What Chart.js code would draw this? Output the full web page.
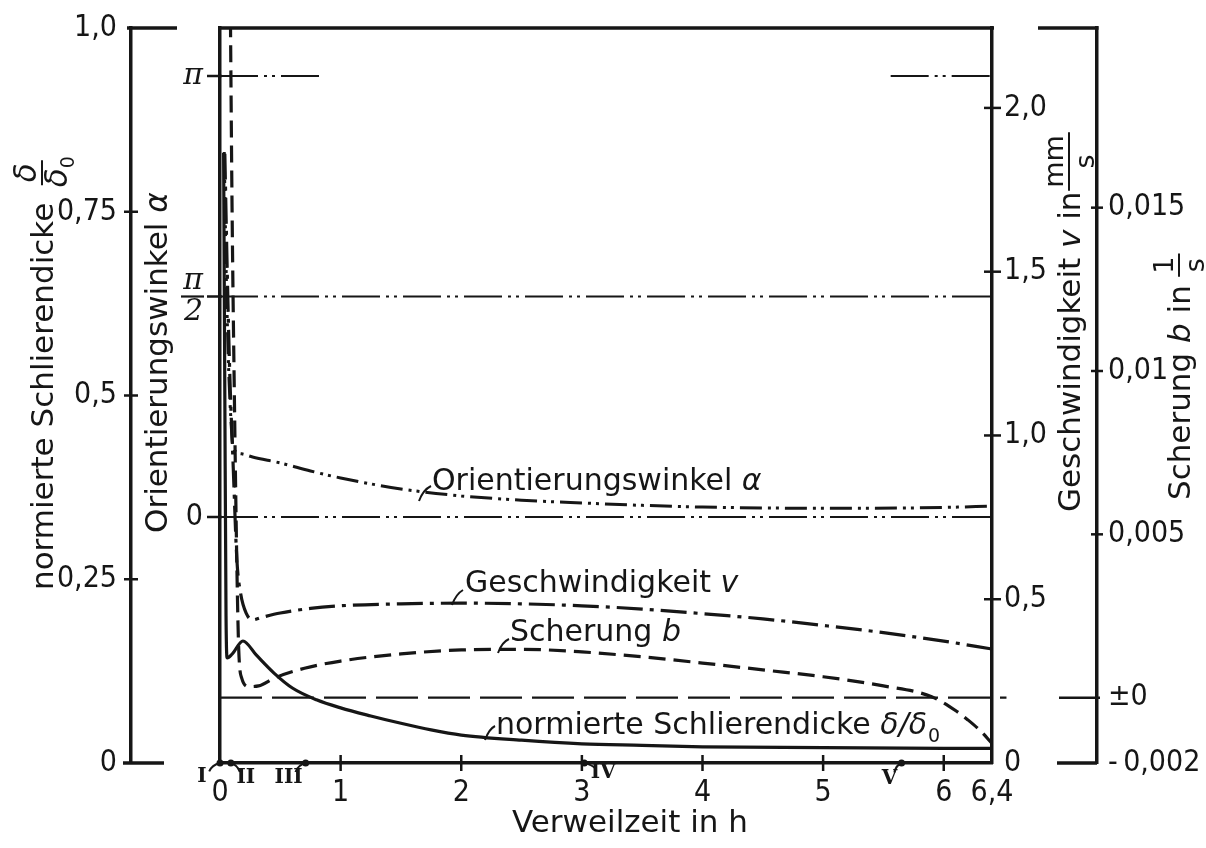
<!DOCTYPE html>
<html lang="de">
<head>
<meta charset="utf-8">
<title>Verweilzeit</title>
<script src="https://cdn.jsdelivr.net/npm/chart.js@4.4.1/dist/chart.umd.min.js"></script>
<style>
  html, body { margin: 0; padding: 0; background: #fff; }
  canvas { display: block; }
</style>
</head>
<body>
<canvas id="chart" width="1206" height="848"></canvas>
<script>
// Verweilzeit in h (x-Achse)
var xTicks = [0, 1, 2, 3, 4, 5, 6, 6.4];
var xTickLabels = ['0', '1', '2', '3', '4', '5', '6', '6,4'];

// normierte Schlierendicke delta/delta0 (linke aeussere Achse)
var deltaTicks = [0, 0.25, 0.5, 0.75, 1];
var deltaTickLabels = ['0', '0,25', '0,5', '0,75', '1,0'];
var deltaX = [0.03, 0.04, 0.05, 0.06, 0.1, 0.19, 0.3, 0.45, 0.6, 0.8, 1.0, 1.25, 1.5, 1.75, 2.0, 2.5, 3.0, 3.5, 4.0, 5.0, 6.0, 6.4];
var deltaY = [0.83, 0.5, 0.2, 0.143, 0.148, 0.166, 0.147, 0.122, 0.102, 0.086, 0.075, 0.064, 0.054, 0.045, 0.038, 0.031, 0.026, 0.024, 0.022, 0.021, 0.02, 0.02];

// Orientierungswinkel alpha in rad (linke innere Achse)
var alphaTicks = [0, Math.PI / 2, Math.PI];
var alphaTickLabels = ['0', ['\u03c0', '2'], '\u03c0'];
var alphaX = [0.035, 0.05, 0.07, 0.09, 0.11, 0.18, 0.27, 0.5, 0.75, 1.0, 1.5, 2.0, 2.5, 3.0, 3.5, 4.0, 5.0, 6.0, 6.4];
var alphaY = [2.6, 1.8, 1.1, 0.7, 0.49, 0.45, 0.427, 0.385, 0.328, 0.278, 0.2, 0.15, 0.12, 0.1, 0.083, 0.071, 0.062, 0.068, 0.078];
// Hilfslinien bei alpha = pi, pi/2, 0
var alphaPiSpans = [[0, 0.86], [5.56, 6.4]];
var alphaFullSpan = [0, 6.4];

// Geschwindigkeit v in mm/s (rechte innere Achse)
var vTicks = [0, 0.5, 1, 1.5, 2];
var vTickLabels = ['0', '0,5', '1,0', '1,5', '2,0'];
var vX = [0.04, 0.06, 0.08, 0.11, 0.14, 0.17, 0.22, 0.27, 0.35, 0.5, 0.75, 1.0, 1.5, 2.0, 2.5, 3.0, 3.5, 4.0, 4.5, 5.0, 5.5, 6.0, 6.4];
var vY = [1.86, 1.5, 1.2, 0.9, 0.62, 0.52, 0.455, 0.437, 0.445, 0.458, 0.472, 0.48, 0.486, 0.488, 0.486, 0.48, 0.47, 0.456, 0.44, 0.42, 0.398, 0.372, 0.348];

// Scherung b in 1/s (rechte aeussere Achse)
var bTicks = [-0.002, 0, 0.005, 0.01, 0.015];
var bTickLabels = ['-\u20090,002', '\u00b10', '0,005', '0,01', '0,015'];
var bX = [0.085, 0.1, 0.12, 0.14, 0.155, 0.18, 0.24, 0.32, 0.45, 0.7, 1.0, 1.5, 2.0, 2.5, 3.0, 3.5, 4.0, 4.5, 5.0, 5.5, 5.9, 6.1, 6.2, 6.3, 6.4];
var bY = [0.0215, 0.015, 0.009, 0.004, 0.0015, 0.0006, 0.00034, 0.00036, 0.0006, 0.0009, 0.00112, 0.00134, 0.00146, 0.00148, 0.0014, 0.00125, 0.00106, 0.00085, 0.00064, 0.00036, 0.00003, -0.0004, -0.00068, -0.001, -0.0014];
var bZeroSpan = [0, 6.52];

// Abschnitte I - V auf der Zeitachse
var stageX = [0, 0.09, 0.71, 3.02, 5.65];
var stageLabels = ['I', 'II', 'III', 'IV', 'V'];

var ink = '#161616';
var textFont = "'DejaVu Sans', 'Noto Sans', sans-serif";
var numFont = "'Liberation Sans Narrow', 'DejaVu Sans Condensed', 'Noto Sans', sans-serif";

function xy(xs, ys) {
    return xs.map(function(x, i) { return { x: x, y: ys[i] }; });
}
function level(spans, y) {
    var pts = [];
    spans.forEach(function(s, i) {
        if (i > 0) pts.push({ x: (spans[i - 1][1] + s[0]) / 2, y: null });
        pts.push({ x: s[0], y: y });
        pts.push({ x: s[1], y: y });
    });
    return pts;
}
function fixedTicks(vals) {
    return function(scale) {
        scale.ticks = vals.map(function(v) { return { value: v }; });
    };
}
function labelsFrom(arr) {
    return function(value, index) { return arr[index]; };
}
// feste Achsbreite, keine Randzugaben fuer Beschriftungen
function fixWidth(w) {
    return function(s) { s.width = w; s.paddingTop = 0; s.paddingBottom = 0; };
}

function line(c, x1, y1, x2, y2, w) {
    c.lineWidth = w;
    c.beginPath();
    c.moveTo(x1, y1);
    c.lineTo(x2, y2);
    c.stroke();
}
function leader(c, x1, y1, cx, cy, x2, y2) {
    c.lineWidth = 2;
    c.beginPath();
    c.moveTo(x1, y1);
    c.quadraticCurveTo(cx, cy, x2, y2);
    c.stroke();
}
// Text aus Stuecken (normal / kursiv) hintereinander schreiben
function parts(c, list, x, y) {
    list.forEach(function(p) {
        c.font = p[1];
        c.fillText(p[0], x, y);
        x += c.measureText(p[0]).width;
    });
    return x;
}
// Bruch in der aktuellen (evtl. gedrehten) Lage, Mitte bei u
function frac(c, u, num, den, font, sub) {
    c.font = font;
    c.textAlign = 'center';
    var wn = c.measureText(num).width;
    var wd = c.measureText(den).width;
    var w = Math.max(wn, wd) + 6;
    c.fillText(num, u, -17);
    line(c, u - w / 2, -11, u + w / 2, -11, 2);
    if (sub) {
        c.fillText(den, u - 5, 14);
        c.font = '19px ' + textFont;
        c.textAlign = 'left';
        c.fillText(sub, u - 5 + wd / 2, 21);
    } else {
        c.fillText(den, u, 14);
    }
    c.textAlign = 'left';
}

var N = '30px ' + textFont;
var I = 'italic 30px ' + textFont;
var T = '31px ' + textFont;
var TI = 'italic 31px ' + textFont;

var decor = {
    id: 'decor',
    beforeDraw: function(chart) {
        var c = chart.ctx;
        c.save();
        c.fillStyle = '#ffffff';
        c.fillRect(0, 0, chart.width, chart.height);
        c.restore();
    },
    afterDraw: function(chart) {
        var c = chart.ctx, a = chart.chartArea, s = chart.scales;
        c.save();
        c.strokeStyle = ink;
        c.fillStyle = ink;

        // Rahmen oben
        line(c, a.left - 2, a.top, a.right + 2, a.top, 3.5);

        // delta-Achse: Klammer oben/unten und Striche
        var xd = s.yD.right;
        line(c, xd - 4, s.yD.getPixelForValue(1), xd + 46, s.yD.getPixelForValue(1), 3.5);
        line(c, xd - 8, s.yD.getPixelForValue(0), xd + 33, s.yD.getPixelForValue(0), 3.5);
        [0.25, 0.5, 0.75].forEach(function(v) {
            var y = s.yD.getPixelForValue(v);
            line(c, xd - 7, y, xd + 7, y, 2.5);
        });

        // alpha-Achse
        var xa = s.yA.right;
        alphaTicks.forEach(function(v) {
            var y = s.yA.getPixelForValue(v);
            line(c, xa - 13, y, xa + 2, y, 2.5);
        });
        var yh = s.yA.getPixelForValue(Math.PI / 2);
        line(c, xa - 39, yh, xa - 16, yh, 2.2);

        // v-Achse
        var xv = s.yV.left;
        [0.5, 1, 1.5, 2].forEach(function(v) {
            var y = s.yV.getPixelForValue(v);
            line(c, xv - 8, y, xv + 9, y, 2.5);
        });

        // b-Achse
        var xb = s.yB.left;
        [0.005, 0.01, 0.015].forEach(function(v) {
            var y = s.yB.getPixelForValue(v);
            line(c, xb - 6, y, xb + 6, y, 2.5);
        });
        line(c, xb - 38, s.yB.getPixelForValue(0), xb + 3, s.yB.getPixelForValue(0), 2.5);
        line(c, xb - 40, s.yB.getPixelForValue(-0.002), xb, s.yB.getPixelForValue(-0.002), 3.5);
        line(c, xb - 59, a.top, xb + 1.5, a.top, 3.5);

        // Zeitachse: Striche
        [1, 2, 3, 4, 5, 6].forEach(function(v) {
            var x = s.x.getPixelForValue(v);
            line(c, x, a.bottom - 8, x, a.bottom + 8, 2.5);
        });

        // Abschnitte I - V
        var meta = chart.getDatasetMeta(chart.data.datasets.length - 1);
        var off = [[-18, 14], [15, 15], [-17, 15], [19, 10], [-12, 16]];
        c.font = 'bold 20px "DejaVu Serif", serif';
        c.textAlign = 'center';
        c.textBaseline = 'middle';
        meta.data.forEach(function(p, i) {
            var dx = off[i][0], dy = off[i][1];
            leader(c, p.x, p.y, p.x + dx * 0.45, p.y + 2, p.x + dx * 0.6, p.y + dy * 0.6);
            c.fillText(stageLabels[i], p.x + dx, p.y + dy);
        });
        c.textAlign = 'left';
        c.textBaseline = 'alphabetic';

        // Kurvenbeschriftungen
        leader(c, 419, 501, 423, 490, 431, 486);
        parts(c, [['Orientierungswinkel ', N], ['\u03b1', I]], 432, 490);
        leader(c, 452, 605, 456, 594, 463, 590);
        parts(c, [['Geschwindigkeit ', N], ['v', I]], 465, 592);
        leader(c, 498, 653, 502, 642, 509, 639);
        parts(c, [['Scherung ', N], ['b', I]], 510, 641);
        leader(c, 485, 740, 489, 729, 495, 726);
        var xe = parts(c, [['normierte Schlierendicke ', N], ['\u03b4/\u03b4', I]], 496, 734);
        c.font = '19px ' + textFont;
        c.fillText('0', xe + 1, 742);

        // Achsentitel x
        c.font = T;
        c.textAlign = 'center';
        c.fillText('Verweilzeit in h', 630, 832);
        c.textAlign = 'left';

        // Achsentitel links aussen
        c.save();
        c.translate(53, 590);
        c.rotate(-Math.PI / 2);
        var u = parts(c, [['normierte Schlierendicke', T]], 0, 0);
        frac(c, u + 30, '\u03b4', '\u03b4', TI, '0');
        c.restore();

        // Achsentitel alpha
        c.save();
        c.translate(167, 533);
        c.rotate(-Math.PI / 2);
        parts(c, [['Orientierungswinkel ', T], ['\u03b1', TI]], 0, 0);
        c.restore();

        // Achsentitel v
        c.save();
        c.translate(1080, 512);
        c.rotate(-Math.PI / 2);
        u = parts(c, [['Geschwindigkeit ', T], ['v', TI], [' in', T]], 0, 0);
        frac(c, u + 30, 'mm', 's', '27px ' + textFont);
        c.restore();

        // Achsentitel b
        c.save();
        c.translate(1190, 500);
        c.rotate(-Math.PI / 2);
        u = parts(c, [['Scherung ', T], ['b', TI], [' in', T]], 0, 0);
        frac(c, u + 20, '1', 's', '27px ' + textFont);
        c.restore();

        c.restore();
    }
};

var numTickFont = { family: numFont, size: 30 };
var piTickFont = { family: "'DejaVu Serif', serif", style: 'italic', size: 30, lineHeight: 1.05 };

var axisBorder = { display: true, width: 3.5, color: ink };
var noGrid = { display: true, drawOnChartArea: false, drawTicks: false };

var datasets = [
    {   // Hilfslinie alpha = pi
        data: level(alphaPiSpans, Math.PI), yAxisID: 'yA',
        borderColor: ink, borderWidth: 2, borderDash: [38, 6, 3, 5, 3, 6], pointRadius: 0, spanGaps: false
    },
    {   // alpha = pi/2
        data: level([alphaFullSpan], Math.PI / 2), yAxisID: 'yA',
        borderColor: ink, borderWidth: 2, borderDash: [38, 6, 3, 5, 3, 6], pointRadius: 0
    },
    {   // alpha = 0
        data: level([alphaFullSpan], 0), yAxisID: 'yA',
        borderColor: ink, borderWidth: 2, borderDash: [38, 6, 3, 5, 3, 6], pointRadius: 0
    },
    {   // b = 0
        data: level([bZeroSpan], 0), yAxisID: 'yB', clip: false,
        borderColor: ink, borderWidth: 2.2, borderDash: [42, 10], pointRadius: 0
    },
    {
        label: 'Orientierungswinkel \u03b1',
        data: xy(alphaX, alphaY), yAxisID: 'yA',
        borderColor: ink, borderWidth: 3, borderDash: [22, 6, 3, 5, 3, 6],
        pointRadius: 0, cubicInterpolationMode: 'monotone'
    },
    {
        label: 'Geschwindigkeit v',
        data: xy(vX, vY), yAxisID: 'yV',
        borderColor: ink, borderWidth: 3.2, borderDash: [26, 7, 4, 7],
        pointRadius: 0, cubicInterpolationMode: 'monotone'
    },
    {
        label: 'Scherung b',
        data: xy(bX, bY), yAxisID: 'yB',
        borderColor: ink, borderWidth: 3.2, borderDash: [17, 8],
        pointRadius: 0, cubicInterpolationMode: 'monotone'
    },
    {
        label: 'normierte Schlierendicke',
        data: xy(deltaX, deltaY), yAxisID: 'yD',
        borderColor: ink, borderWidth: 3.2,
        pointRadius: 0, cubicInterpolationMode: 'monotone'
    },
    {   // Abschnittspunkte
        data: stageX.map(function(x) { return { x: x, y: 0 }; }), yAxisID: 'yD',
        showLine: false, clip: false, pointRadius: 3.5, pointBackgroundColor: ink, pointBorderWidth: 0
    }
];

var chart = new Chart(document.getElementById('chart').getContext('2d'), {
    type: 'line',
    data: { datasets: datasets },
    plugins: [decor],
    options: {
        responsive: false,
        animation: false,
        events: [],
        layout: { padding: { top: 28, left: 0, right: 0, bottom: 0 } },
        plugins: { legend: { display: false }, tooltip: { enabled: false } },
        scales: {
            x: {
                type: 'linear', position: 'bottom', min: 0, max: 6.4,
                afterFit: function(s) { s.height = 85; s.paddingLeft = 0; s.paddingRight = 0; },
                afterBuildTicks: fixedTicks(xTicks),
                ticks: { callback: labelsFrom(xTickLabels), font: numTickFont, color: ink, padding: 12, maxRotation: 0, autoSkip: false },
                grid: noGrid, border: axisBorder
            },
            yD: {
                type: 'linear', position: 'left', weight: 2, min: 0, max: 1,
                afterFit: fixWidth(131),
                afterBuildTicks: fixedTicks(deltaTicks),
                ticks: { callback: labelsFrom(deltaTickLabels), font: numTickFont, color: ink, padding: 14, autoSkip: false },
                grid: noGrid, border: axisBorder
            },
            yA: {
                type: 'linear', position: 'left', weight: 1,
                min: -246 / 441 * Math.PI, max: 489 / 441 * Math.PI,
                afterFit: fixWidth(89),
                afterBuildTicks: fixedTicks(alphaTicks),
                ticks: {
                    callback: labelsFrom(alphaTickLabels), color: ink, padding: 17, autoSkip: false,
                    font: function(ctx) { return ctx.tick && ctx.tick.value === 0 ? numTickFont : piTickFont; }
                },
                grid: noGrid, border: axisBorder
            },
            yV: {
                type: 'linear', position: 'right', weight: 1, min: 0, max: 2.244,
                afterFit: fixWidth(105),
                afterBuildTicks: fixedTicks(vTicks),
                ticks: { callback: labelsFrom(vTickLabels), font: numTickFont, color: ink, padding: 12, autoSkip: false },
                grid: noGrid, border: axisBorder
            },
            yB: {
                type: 'linear', position: 'right', weight: 2, min: -0.002, max: 0.0205,
                afterFit: fixWidth(109),
                afterBuildTicks: fixedTicks(bTicks),
                ticks: { callback: labelsFrom(bTickLabels), font: numTickFont, color: ink, padding: 11, autoSkip: false },
                grid: noGrid, border: axisBorder
            }
        }
    }
});
</script>
</body>
</html>
